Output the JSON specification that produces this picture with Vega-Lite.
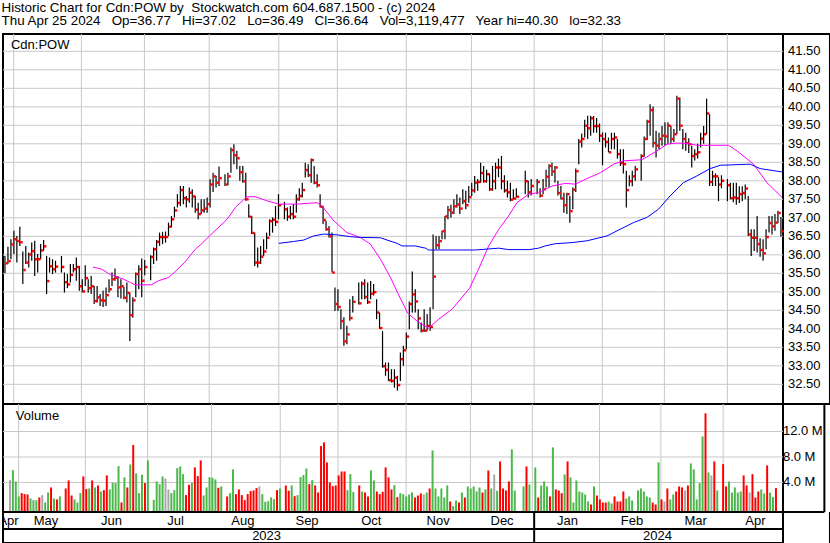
{
"$schema": "https://vega.github.io/schema/vega-lite/v6.json",
"padding": {"left": 1, "top": 0, "right": 0, "bottom": 0},
"background": "white",
"spacing": 0,
"bounds": "flush",
"title": {"text": "Historic Chart for Cdn:POW by\u00a0 Stockwatch.com 604.687.1500 - (c) 2024", "subtitle": "Thu Apr 25 2024\u00a0\u00a0 Op=36.77\u00a0\u00a0 Hi=37.02\u00a0\u00a0 Lo=36.49\u00a0\u00a0 Cl=36.64\u00a0\u00a0 Vol=3,119,477\u00a0\u00a0 Year hi=40.30\u00a0\u00a0 lo=32.33", "anchor": "start", "frame": "bounds", "fontSize": 13.4, "subtitleFontSize": 13.4, "fontWeight": "normal", "subtitleFontWeight": "normal", "font": "Liberation Sans", "subtitleFont": "Liberation Sans", "color": "black", "subtitleColor": "black", "offset": 4.7, "subtitlePadding": 0},
"config": {"font": "Liberation Sans", "view": {"stroke": "black", "strokeWidth": 2}},
"resolve": {"scale": {"x": "independent", "y": "independent", "color": "independent"}},
"datasets": {
"gp": [{"p":32.5},{"p":33},{"p":33.5},{"p":34},{"p":34.5},{"p":35},{"p":35.5},{"p":36},{"p":36.5},{"p":37},{"p":37.5},{"p":38},{"p":38.5},{"p":39},{"p":39.5},{"p":40},{"p":40.5},{"p":41},{"p":41.5}],
"gv": [{"p":4,"t":"4.0 M"},{"p":8,"t":"8.0 M"},{"p":12,"t":"12.0 M"}],
"gx": [{"i":3.94},{"i":26.7},{"i":47.9},{"i":69.7},{"i":93.1},{"i":112.8},{"i":136},{"i":157.9},{"i":179},{"i":201.9},{"i":222.8},{"i":244}],
"edge": [{"i":278.5}],
"mo": [{"i":2.2,"t":"Apr"},{"i":14.8,"t":"May"},{"i":36.8,"t":"Jun"},{"i":58.4,"t":"Jul"},{"i":81,"t":"Aug"},{"i":102.6,"t":"Sep"},{"i":124.2,"t":"Oct"},{"i":146.7,"t":"Nov"},{"i":168.2,"t":"Dec"},{"i":190.2,"t":"Jan"},{"i":211.9,"t":"Feb"},{"i":233.3,"t":"Mar"},{"i":253.4,"t":"Apr"}],
"yr": [{"i":89,"t":"2023"},{"i":220.5,"t":"2024"}],
"m1": [{"i":30.6,"m":35.67},{"i":33.6,"m":35.61},{"i":35.9,"m":35.49},{"i":38.1,"m":35.42},{"i":40.9,"m":35.34},{"i":43.2,"m":35.25},{"i":44.8,"m":35.19},{"i":50.2,"m":35.19},{"i":52.7,"m":35.3},{"i":56.1,"m":35.39},{"i":58.3,"m":35.55},{"i":61.5,"m":35.8},{"i":65,"m":36.15},{"i":67.3,"m":36.31},{"i":69.8,"m":36.51},{"i":74,"m":36.83},{"i":75.7,"m":36.96},{"i":78.7,"m":37.3},{"i":82.4,"m":37.57},{"i":85.2,"m":37.57},{"i":89.1,"m":37.46},{"i":93.1,"m":37.37},{"i":99.2,"m":37.37},{"i":106,"m":37.41},{"i":107.6,"m":37.32},{"i":111.6,"m":36.92},{"i":116,"m":36.6},{"i":120.5,"m":36.47},{"i":123.9,"m":36.29},{"i":127.3,"m":35.88},{"i":130.6,"m":35.4},{"i":133.2,"m":34.95},{"i":136.5,"m":34.42},{"i":140.2,"m":34.17},{"i":143.5,"m":34.02},{"i":146.9,"m":34.26},{"i":151.4,"m":34.53},{"i":157.3,"m":35.1},{"i":160.3,"m":35.61},{"i":163.7,"m":36.24},{"i":167.1,"m":36.69},{"i":170.4,"m":37.05},{"i":173.2,"m":37.41},{"i":177.2,"m":37.64},{"i":180.5,"m":37.68},{"i":185,"m":37.86},{"i":189.5,"m":37.93},{"i":192.8,"m":37.91},{"i":196.8,"m":38.06},{"i":201.3,"m":38.22},{"i":205.7,"m":38.45},{"i":209.1,"m":38.54},{"i":215.3,"m":38.57},{"i":220.3,"m":38.81},{"i":223.7,"m":38.99},{"i":227,"m":39.02},{"i":230.4,"m":39.01},{"i":233.8,"m":38.96},{"i":244.4,"m":38.96},{"i":247.2,"m":38.81},{"i":252.8,"m":38.45},{"i":257.3,"m":37.95},{"i":262.4,"m":37.55}],
"m2": [{"i":93.1,"m":36.31},{"i":98.1,"m":36.36},{"i":101.5,"m":36.4},{"i":104.8,"m":36.51},{"i":108.2,"m":36.56},{"i":112.7,"m":36.54},{"i":117.2,"m":36.49},{"i":120.5,"m":36.47},{"i":127.3,"m":36.46},{"i":129.5,"m":36.4},{"i":132.9,"m":36.31},{"i":134.5,"m":36.24},{"i":139,"m":36.24},{"i":142.4,"m":36.18},{"i":143.5,"m":36.13},{"i":159.2,"m":36.13},{"i":167.1,"m":36.18},{"i":170.4,"m":36.14},{"i":177.2,"m":36.14},{"i":180.5,"m":36.18},{"i":182.7,"m":36.24},{"i":186.1,"m":36.3},{"i":191.7,"m":36.33},{"i":196.8,"m":36.38},{"i":203.5,"m":36.51},{"i":207.9,"m":36.69},{"i":212.4,"m":36.87},{"i":216.9,"m":37.01},{"i":220.8,"m":37.23},{"i":224.7,"m":37.59},{"i":229.2,"m":37.95},{"i":233.7,"m":38.13},{"i":238.2,"m":38.33},{"i":241.6,"m":38.42},{"i":251.7,"m":38.45},{"i":255,"m":38.33},{"i":262.4,"m":38.24}],
"p": [
{"i":1,"h":35.97,"l":35.5,"c":35.77,"v":4.37,"k":"n"},
{"i":2,"h":36.22,"l":35.76,"c":35.83,"v":5.94,"k":"u"},
{"i":3,"h":36.42,"l":35.88,"c":36.28,"v":4.16,"k":"u"},
{"i":4,"h":36.65,"l":36.02,"c":36.42,"v":1.81,"k":"u"},
{"i":5,"h":36.51,"l":35.79,"c":36.37,"v":2.33,"k":"d"},
{"i":6,"h":36.76,"l":36.24,"c":36.34,"v":2.17,"k":"d"},
{"i":7,"h":36.09,"l":35.21,"c":35.59,"v":2.12,"k":"d"},
{"i":8,"h":36.24,"l":35.75,"c":35.79,"v":1.49,"k":"u"},
{"i":9,"h":36.06,"l":35.66,"c":36.01,"v":1.23,"k":"u"},
{"i":10,"h":36.33,"l":35.84,"c":36.1,"v":1.23,"k":"u"},
{"i":11,"h":36.38,"l":35.43,"c":35.88,"v":1.65,"k":"d"},
{"i":12,"h":36.02,"l":35.52,"c":35.88,"v":2.02,"k":"n"},
{"i":13,"h":36.29,"l":35.88,"c":36.12,"v":0.86,"k":"u"},
{"i":14,"h":36.4,"l":36.11,"c":36.23,"v":2.43,"k":"u"},
{"i":15,"h":35.97,"l":34.94,"c":35.29,"v":3.22,"k":"d"},
{"i":16,"h":35.93,"l":35.52,"c":35.69,"v":1.49,"k":"u"},
{"i":17,"h":35.88,"l":35.48,"c":35.61,"v":1.34,"k":"d"},
{"i":18,"h":35.84,"l":35.52,"c":35.68,"v":1.81,"k":"u"},
{"i":20,"h":35.97,"l":35.52,"c":35.67,"v":3.06,"k":"d"},
{"i":21,"h":35.52,"l":34.98,"c":35.26,"v":4.32,"k":"d"},
{"i":22,"h":35.48,"l":35.1,"c":35.2,"v":1.96,"k":"d"},
{"i":23,"h":35.75,"l":35.25,"c":35.46,"v":1.34,"k":"u"},
{"i":24,"h":35.75,"l":35.52,"c":35.61,"v":0.86,"k":"u"},
{"i":25,"h":35.93,"l":35.3,"c":35.67,"v":2.33,"k":"u"},
{"i":26,"h":35.7,"l":35.03,"c":35.15,"v":4.95,"k":"d"},
{"i":27,"h":35.34,"l":34.98,"c":35.01,"v":2.96,"k":"d"},
{"i":28,"h":35.72,"l":35.16,"c":35.37,"v":3.06,"k":"u"},
{"i":29,"h":35.34,"l":34.98,"c":35.1,"v":4.32,"k":"d"},
{"i":30,"h":35.43,"l":34.94,"c":35.15,"v":3.22,"k":"u"},
{"i":31,"h":35.16,"l":34.67,"c":34.75,"v":3.53,"k":"d"},
{"i":32,"h":35.16,"l":34.71,"c":34.85,"v":2.59,"k":"u"},
{"i":33,"h":34.94,"l":34.62,"c":34.77,"v":2.8,"k":"d"},
{"i":34,"h":35.03,"l":34.59,"c":34.76,"v":5.1,"k":"d"},
{"i":35,"h":35.12,"l":34.62,"c":34.91,"v":2.91,"k":"u"},
{"i":36,"h":35.34,"l":34.98,"c":35.07,"v":3.95,"k":"u"},
{"i":37,"h":35.52,"l":35.16,"c":35.34,"v":3.9,"k":"u"},
{"i":38,"h":35.63,"l":35.3,"c":35.38,"v":6.57,"k":"u"},
{"i":39,"h":35.43,"l":34.85,"c":35.12,"v":0.86,"k":"d"},
{"i":40,"h":35.34,"l":34.82,"c":35.15,"v":4.79,"k":"u"},
{"i":41,"h":35.14,"l":34.8,"c":34.84,"v":3.22,"k":"d"},
{"i":42,"h":35.25,"l":34.71,"c":34.97,"v":6.83,"k":"u"},
{"i":43,"h":34.98,"l":33.67,"c":34.37,"v":9.87,"k":"d"},
{"i":44,"h":34.85,"l":34.3,"c":34.77,"v":5.42,"k":"u"},
{"i":45,"h":35.52,"l":34.85,"c":35.48,"v":2.33,"k":"u"},
{"i":46,"h":35.72,"l":35.07,"c":35.61,"v":5.21,"k":"u"},
{"i":47,"h":35.9,"l":34.85,"c":35.3,"v":3.9,"k":"d"},
{"i":48,"h":35.86,"l":35.45,"c":35.67,"v":7.46,"k":"u"},
{"i":50,"h":35.99,"l":35.31,"c":35.94,"v":1.28,"k":"u"},
{"i":51,"h":36.2,"l":35.75,"c":36.15,"v":4.16,"k":"u"},
{"i":52,"h":36.4,"l":35.84,"c":36.35,"v":3.74,"k":"u"},
{"i":53,"h":36.6,"l":36.24,"c":36.48,"v":4.95,"k":"u"},
{"i":54,"h":36.62,"l":36.29,"c":36.48,"v":4.63,"k":"n"},
{"i":55,"h":36.63,"l":36.33,"c":36.48,"v":2.91,"k":"n"},
{"i":56,"h":36.87,"l":36.51,"c":36.76,"v":2.33,"k":"u"},
{"i":57,"h":37.05,"l":36.74,"c":36.96,"v":2.8,"k":"u"},
{"i":58,"h":37.3,"l":37.01,"c":37.2,"v":6.26,"k":"u"},
{"i":59,"h":37.64,"l":37.28,"c":37.4,"v":6.52,"k":"u"},
{"i":60,"h":37.86,"l":37.32,"c":37.75,"v":5.31,"k":"u"},
{"i":61,"h":37.86,"l":37.37,"c":37.53,"v":2.02,"k":"d"},
{"i":62,"h":37.59,"l":37.28,"c":37.5,"v":3.64,"k":"d"},
{"i":63,"h":37.82,"l":37.41,"c":37.68,"v":3.95,"k":"u"},
{"i":64,"h":37.77,"l":37.28,"c":37.58,"v":6.36,"k":"d"},
{"i":65,"h":37.59,"l":37.14,"c":37.22,"v":5.0,"k":"d"},
{"i":66,"h":37.41,"l":36.96,"c":37.1,"v":7.46,"k":"d"},
{"i":67,"h":37.5,"l":37.1,"c":37.2,"v":1.96,"k":"u"},
{"i":68,"h":37.5,"l":37.14,"c":37.25,"v":3.22,"k":"u"},
{"i":69,"h":37.55,"l":37.14,"c":37.37,"v":4.84,"k":"u"},
{"i":70,"h":38.04,"l":37.28,"c":37.9,"v":4.74,"k":"u"},
{"i":71,"h":38.22,"l":37.7,"c":38.12,"v":4.48,"k":"u"},
{"i":72,"h":38.13,"l":37.82,"c":37.95,"v":3.17,"k":"d"},
{"i":73,"h":38.39,"l":37.86,"c":38.07,"v":3.38,"k":"u"},
{"i":75,"h":38.18,"l":37.86,"c":37.9,"v":1.81,"k":"d"},
{"i":76,"h":38.22,"l":37.88,"c":38.12,"v":2.33,"k":"u"},
{"i":77,"h":38.9,"l":38.22,"c":38.83,"v":6.05,"k":"u"},
{"i":78,"h":38.99,"l":38.45,"c":38.69,"v":2.17,"k":"d"},
{"i":79,"h":38.81,"l":38.31,"c":38.61,"v":2.91,"k":"d"},
{"i":80,"h":38.4,"l":38.0,"c":38.23,"v":2.02,"k":"d"},
{"i":81,"h":38.4,"l":37.95,"c":37.99,"v":1.23,"k":"d"},
{"i":82,"h":38.22,"l":37.46,"c":37.5,"v":2.17,"k":"d"},
{"i":83,"h":37.37,"l":37.01,"c":37.03,"v":2.64,"k":"d"},
{"i":84,"h":37.05,"l":36.56,"c":36.59,"v":2.75,"k":"d"},
{"i":85,"h":36.6,"l":35.7,"c":35.79,"v":3.12,"k":"d"},
{"i":86,"h":36.2,"l":35.66,"c":35.79,"v":3.38,"k":"n"},
{"i":87,"h":36.24,"l":35.75,"c":35.95,"v":2.17,"k":"u"},
{"i":88,"h":36.42,"l":35.97,"c":36.09,"v":0.97,"k":"u"},
{"i":89,"h":36.6,"l":36.15,"c":36.46,"v":1.07,"k":"u"},
{"i":90,"h":36.96,"l":36.51,"c":36.91,"v":1.65,"k":"u"},
{"i":91,"h":37.01,"l":36.6,"c":36.95,"v":1.39,"k":"u"},
{"i":92,"h":37.32,"l":36.78,"c":36.89,"v":2.8,"k":"d"},
{"i":93,"h":37.64,"l":36.96,"c":37.34,"v":3.06,"k":"u"},
{"i":95,"h":37.43,"l":36.96,"c":37.23,"v":3.53,"k":"d"},
{"i":96,"h":37.28,"l":36.92,"c":37.03,"v":2.7,"k":"d"},
{"i":97,"h":37.32,"l":36.96,"c":37.1,"v":3.53,"k":"u"},
{"i":98,"h":37.37,"l":36.96,"c":37.03,"v":1.86,"k":"d"},
{"i":99,"h":37.64,"l":37.14,"c":37.5,"v":2.02,"k":"u"},
{"i":100,"h":37.8,"l":37.46,"c":37.59,"v":4.84,"k":"u"},
{"i":101,"h":37.95,"l":37.55,"c":37.75,"v":5.16,"k":"u"},
{"i":102,"h":38.49,"l":38.09,"c":38.29,"v":6.2,"k":"u"},
{"i":103,"h":38.45,"l":38.1,"c":38.15,"v":3.74,"k":"d"},
{"i":104,"h":38.6,"l":37.95,"c":38.56,"v":4.37,"k":"u"},
{"i":105,"h":38.4,"l":37.91,"c":37.95,"v":3.53,"k":"d"},
{"i":106,"h":38.18,"l":37.82,"c":37.88,"v":2.43,"k":"d"},
{"i":107,"h":37.64,"l":37.28,"c":37.3,"v":9.71,"k":"d"},
{"i":108,"h":37.32,"l":36.83,"c":36.94,"v":10.29,"k":"d"},
{"i":109,"h":36.92,"l":36.65,"c":36.69,"v":7.15,"k":"d"},
{"i":110,"h":36.78,"l":36.47,"c":36.5,"v":4.01,"k":"d"},
{"i":111,"h":36.6,"l":35.52,"c":35.52,"v":3.43,"k":"d"},
{"i":112,"h":35.12,"l":34.48,"c":34.67,"v":3.53,"k":"d"},
{"i":113,"h":35.07,"l":34.48,"c":34.59,"v":5.1,"k":"d"},
{"i":114,"h":34.53,"l":33.99,"c":34.21,"v":5.73,"k":"d"},
{"i":115,"h":34.31,"l":33.54,"c":33.66,"v":5.73,"k":"d"},
{"i":116,"h":34.08,"l":33.58,"c":33.85,"v":2.8,"k":"u"},
{"i":117,"h":34.8,"l":34.22,"c":34.29,"v":5.31,"k":"u"},
{"i":118,"h":34.89,"l":34.44,"c":34.73,"v":2.49,"k":"u"},
{"i":120,"h":35.25,"l":34.66,"c":34.69,"v":3.53,"k":"d"},
{"i":121,"h":35.28,"l":34.8,"c":35.22,"v":2.59,"k":"u"},
{"i":122,"h":35.34,"l":34.8,"c":34.86,"v":2.43,"k":"d"},
{"i":123,"h":35.25,"l":34.67,"c":34.72,"v":1.81,"k":"d"},
{"i":124,"h":35.29,"l":34.8,"c":34.95,"v":5.89,"k":"u"},
{"i":125,"h":35.21,"l":34.9,"c":34.99,"v":4.32,"k":"u"},
{"i":126,"h":34.8,"l":34.26,"c":34.44,"v":2.59,"k":"d"},
{"i":127,"h":34.44,"l":34.0,"c":34.02,"v":2.17,"k":"d"},
{"i":128,"h":33.94,"l":32.95,"c":32.99,"v":2.54,"k":"d"},
{"i":129,"h":33.09,"l":32.73,"c":32.89,"v":6.36,"k":"d"},
{"i":130,"h":33.09,"l":32.59,"c":32.61,"v":4.79,"k":"d"},
{"i":131,"h":32.91,"l":32.55,"c":32.59,"v":2.91,"k":"d"},
{"i":132,"h":32.91,"l":32.41,"c":32.68,"v":3.59,"k":"u"},
{"i":133,"h":32.73,"l":32.33,"c":32.48,"v":1.7,"k":"d"},
{"i":134,"h":33.36,"l":32.59,"c":33.18,"v":2.33,"k":"u"},
{"i":135,"h":33.54,"l":33.0,"c":33.42,"v":2.17,"k":"u"},
{"i":136,"h":33.9,"l":33.45,"c":33.79,"v":1.81,"k":"u"},
{"i":137,"h":34.74,"l":33.99,"c":34.67,"v":2.12,"k":"u"},
{"i":138,"h":35.55,"l":34.44,"c":34.93,"v":2.43,"k":"u"},
{"i":139,"h":35.07,"l":34.44,"c":34.74,"v":1.65,"k":"d"},
{"i":140,"h":34.53,"l":33.99,"c":34.28,"v":1.96,"k":"d"},
{"i":141,"h":34.17,"l":33.9,"c":33.95,"v":2.28,"k":"d"},
{"i":142,"h":34.53,"l":33.92,"c":33.95,"v":2.12,"k":"n"},
{"i":143,"h":34.4,"l":33.95,"c":34.08,"v":2.43,"k":"u"},
{"i":144,"h":34.58,"l":33.95,"c":34.05,"v":3.06,"k":"d"},
{"i":145,"h":36.55,"l":34.53,"c":35.41,"v":9.03,"k":"u"},
{"i":146,"h":36.51,"l":36.15,"c":36.26,"v":3.06,"k":"u"},
{"i":147,"h":36.51,"l":36.15,"c":36.37,"v":1.81,"k":"u"},
{"i":148,"h":36.65,"l":36.42,"c":36.64,"v":3.06,"k":"u"},
{"i":149,"h":37.05,"l":36.42,"c":37.04,"v":1.65,"k":"u"},
{"i":150,"h":37.32,"l":36.96,"c":37.21,"v":3.53,"k":"u"},
{"i":151,"h":37.35,"l":37.0,"c":37.14,"v":1.02,"k":"d"},
{"i":152,"h":37.5,"l":37.1,"c":37.31,"v":0.3,"k":"u"},
{"i":153,"h":37.64,"l":37.28,"c":37.36,"v":1.18,"k":"u"},
{"i":154,"h":37.55,"l":37.1,"c":37.25,"v":0.86,"k":"d"},
{"i":155,"h":37.77,"l":37.37,"c":37.45,"v":2.43,"k":"u"},
{"i":156,"h":37.73,"l":37.23,"c":37.34,"v":1.65,"k":"d"},
{"i":157,"h":37.86,"l":37.41,"c":37.56,"v":3.38,"k":"u"},
{"i":158,"h":37.95,"l":37.59,"c":37.74,"v":3.06,"k":"u"},
{"i":159,"h":38.13,"l":37.68,"c":37.95,"v":3.38,"k":"u"},
{"i":160,"h":38.05,"l":37.73,"c":37.97,"v":2.59,"k":"u"},
{"i":161,"h":38.49,"l":37.95,"c":38.21,"v":3.22,"k":"u"},
{"i":162,"h":38.4,"l":37.95,"c":37.99,"v":2.43,"k":"d"},
{"i":163,"h":38.3,"l":37.95,"c":38.18,"v":2.91,"k":"u"},
{"i":164,"h":38.2,"l":37.73,"c":37.77,"v":5.89,"k":"d"},
{"i":165,"h":38.4,"l":37.73,"c":37.99,"v":3.06,"k":"u"},
{"i":166,"h":38.49,"l":37.77,"c":38.36,"v":5.26,"k":"n"},
{"i":167,"h":38.6,"l":38.1,"c":38.36,"v":2.7,"k":"u"},
{"i":168,"h":38.67,"l":37.77,"c":37.99,"v":7.3,"k":"d"},
{"i":169,"h":38.15,"l":37.68,"c":37.74,"v":3.06,"k":"d"},
{"i":170,"h":38.0,"l":37.55,"c":37.69,"v":2.75,"k":"d"},
{"i":171,"h":37.95,"l":37.45,"c":37.49,"v":4.16,"k":"d"},
{"i":172,"h":37.77,"l":37.5,"c":37.52,"v":9.19,"k":"u"},
{"i":173,"h":37.8,"l":37.55,"c":37.57,"v":2.75,"k":"u"},
{"i":176,"h":38.27,"l":37.64,"c":37.99,"v":3.38,"k":"u"},
{"i":177,"h":38.0,"l":37.55,"c":37.69,"v":6.52,"k":"d"},
{"i":178,"h":38.05,"l":37.6,"c":37.86,"v":3.69,"k":"u"},
{"i":180,"h":38.05,"l":37.64,"c":37.97,"v":6.36,"k":"u"},
{"i":181,"h":37.8,"l":37.55,"c":37.6,"v":1.65,"k":"d"},
{"i":182,"h":38.05,"l":37.64,"c":37.77,"v":3.53,"k":"u"},
{"i":183,"h":38.3,"l":37.82,"c":38.11,"v":4.16,"k":"u"},
{"i":184,"h":38.45,"l":37.82,"c":38.4,"v":3.38,"k":"u"},
{"i":185,"h":38.49,"l":38.13,"c":38.25,"v":1.81,"k":"d"},
{"i":186,"h":38.4,"l":37.95,"c":38.36,"v":9.5,"k":"u"},
{"i":187,"h":38.0,"l":37.6,"c":37.67,"v":2.91,"k":"d"},
{"i":188,"h":37.86,"l":37.5,"c":37.52,"v":2.75,"k":"d"},
{"i":189,"h":37.68,"l":37.14,"c":37.34,"v":2.33,"k":"d"},
{"i":190,"h":37.68,"l":37.1,"c":37.64,"v":5.26,"k":"u"},
{"i":191,"h":37.59,"l":36.87,"c":37.18,"v":7.3,"k":"d"},
{"i":192,"h":37.82,"l":37.23,"c":37.76,"v":4.79,"k":"u"},
{"i":193,"h":38.33,"l":37.7,"c":38.26,"v":0.86,"k":"u"},
{"i":194,"h":39.13,"l":38.45,"c":39.06,"v":4.32,"k":"u"},
{"i":195,"h":39.28,"l":38.9,"c":39.13,"v":2.59,"k":"u"},
{"i":196,"h":39.65,"l":39.17,"c":39.49,"v":2.43,"k":"u"},
{"i":197,"h":39.76,"l":39.13,"c":39.42,"v":2.12,"k":"u"},
{"i":198,"h":39.76,"l":39.22,"c":39.69,"v":1.02,"k":"u"},
{"i":199,"h":39.75,"l":39.3,"c":39.48,"v":0.55,"k":"d"},
{"i":200,"h":39.7,"l":39.3,"c":39.48,"v":3.38,"k":"u"},
{"i":201,"h":39.55,"l":39.05,"c":39.22,"v":1.96,"k":"d"},
{"i":202,"h":39.31,"l":38.42,"c":39.13,"v":1.34,"k":"d"},
{"i":203,"h":39.3,"l":38.9,"c":39.05,"v":0.86,"k":"d"},
{"i":204,"h":39.17,"l":38.77,"c":38.77,"v":0.86,"k":"d"},
{"i":205,"h":39.3,"l":38.85,"c":39.13,"v":1.02,"k":"u"},
{"i":206,"h":39.3,"l":38.85,"c":39.17,"v":0.71,"k":"u"},
{"i":207,"h":39.13,"l":38.6,"c":38.72,"v":1.81,"k":"d"},
{"i":208,"h":38.85,"l":38.4,"c":38.48,"v":1.02,"k":"d"},
{"i":209,"h":38.85,"l":38.2,"c":38.45,"v":1.02,"k":"d"},
{"i":210,"h":38.27,"l":37.28,"c":37.75,"v":2.59,"k":"d"},
{"i":211,"h":38.15,"l":37.85,"c":37.99,"v":1.49,"k":"u"},
{"i":212,"h":38.27,"l":37.85,"c":38.12,"v":1.81,"k":"u"},
{"i":213,"h":38.4,"l":38.0,"c":38.31,"v":1.18,"k":"u"},
{"i":215,"h":38.72,"l":38.0,"c":38.67,"v":2.75,"k":"u"},
{"i":216,"h":39.2,"l":38.65,"c":39.13,"v":3.06,"k":"u"},
{"i":217,"h":39.65,"l":39.1,"c":39.6,"v":2.59,"k":"u"},
{"i":218,"h":40.07,"l":39.22,"c":39.91,"v":1.81,"k":"u"},
{"i":219,"h":40.01,"l":38.9,"c":39.02,"v":1.65,"k":"u"},
{"i":220,"h":39.35,"l":38.63,"c":38.95,"v":0.86,"k":"d"},
{"i":221,"h":39.3,"l":38.85,"c":39.13,"v":0.55,"k":"d"},
{"i":222,"h":39.48,"l":38.95,"c":39.22,"v":7.15,"k":"u"},
{"i":223,"h":39.58,"l":38.95,"c":39.2,"v":1.34,"k":"d"},
{"i":224,"h":39.58,"l":39.0,"c":39.49,"v":1.02,"k":"n"},
{"i":225,"h":39.48,"l":39.0,"c":39.13,"v":3.06,"k":"d"},
{"i":226,"h":39.4,"l":39.05,"c":39.26,"v":1.34,"k":"u"},
{"i":227,"h":40.3,"l":39.26,"c":40.22,"v":2.12,"k":"u"},
{"i":228,"h":40.25,"l":39.35,"c":39.49,"v":2.59,"k":"d"},
{"i":229,"h":39.4,"l":38.85,"c":39.13,"v":3.38,"k":"d"},
{"i":230,"h":39.3,"l":38.81,"c":39.02,"v":3.22,"k":"d"},
{"i":231,"h":39.15,"l":38.75,"c":38.99,"v":2.75,"k":"n"},
{"i":232,"h":38.95,"l":38.36,"c":38.67,"v":3.53,"k":"d"},
{"i":233,"h":38.85,"l":38.55,"c":38.72,"v":6.99,"k":"u"},
{"i":234,"h":39.0,"l":38.6,"c":38.77,"v":6.05,"k":"u"},
{"i":235,"h":39.3,"l":38.9,"c":39.14,"v":1.34,"k":"u"},
{"i":236,"h":39.48,"l":39.0,"c":39.26,"v":3.9,"k":"u"},
{"i":237,"h":40.22,"l":39.26,"c":39.82,"v":11.23,"k":"u"},
{"i":238,"h":39.8,"l":37.86,"c":37.97,"v":14.84,"k":"d"},
{"i":239,"h":38.27,"l":37.86,"c":38.12,"v":5.58,"k":"u"},
{"i":240,"h":38.2,"l":37.86,"c":38.12,"v":5.1,"k":"n"},
{"i":241,"h":38.1,"l":37.45,"c":37.9,"v":7.3,"k":"d"},
{"i":242,"h":38.15,"l":37.8,"c":38.0,"v":2.75,"k":"u"},
{"i":244,"h":38.05,"l":37.45,"c":37.88,"v":6.88,"k":"d"},
{"i":245,"h":37.95,"l":37.5,"c":37.53,"v":3.38,"k":"d"},
{"i":246,"h":37.95,"l":37.42,"c":37.55,"v":4.16,"k":"u"},
{"i":247,"h":37.95,"l":37.35,"c":37.53,"v":2.43,"k":"u"},
{"i":248,"h":37.85,"l":37.4,"c":37.64,"v":3.22,"k":"u"},
{"i":249,"h":37.85,"l":37.45,"c":37.67,"v":2.43,"k":"u"},
{"i":250,"h":37.9,"l":37.5,"c":37.79,"v":2.6,"k":"u"},
{"i":251,"h":37.59,"l":36.51,"c":36.55,"v":5.1,"k":"d"},
{"i":252,"h":36.69,"l":35.97,"c":36.46,"v":3.53,"k":"d"},
{"i":253,"h":36.69,"l":36.1,"c":36.46,"v":2.43,"k":"n"},
{"i":254,"h":37.05,"l":36.06,"c":36.29,"v":5.31,"k":"d"},
{"i":255,"h":36.45,"l":35.95,"c":36.13,"v":1.65,"k":"d"},
{"i":256,"h":36.42,"l":35.84,"c":36.04,"v":2.59,"k":"d"},
{"i":257,"h":36.69,"l":36.15,"c":36.48,"v":2.91,"k":"u"},
{"i":258,"h":37.05,"l":36.6,"c":36.86,"v":2.28,"k":"u"},
{"i":259,"h":37.05,"l":36.55,"c":36.77,"v":6.68,"k":"d"},
{"i":260,"h":37.1,"l":36.65,"c":36.87,"v":2.4,"k":"u"},
{"i":261,"h":37.19,"l":36.85,"c":37.13,"v":1.7,"k":"u"},
{"i":262,"h":37.02,"l":36.49,"c":36.64,"v":3.12,"k":"d"}
]
},
"vconcat": [
{
"width": 780, "height": 370,
"layer": [
{"data": {"name": "gp"}, "mark": {"type": "rule", "color": "#c8c8c8", "strokeWidth": 1},
 "encoding": {"y": {"field": "p", "type": "quantitative", "scale": {"domain": [31.968, 41.968], "nice": false, "zero": false}, "axis": null}}},
{"data": {"name": "gx"}, "mark": {"type": "rule", "color": "#c8c8c8", "strokeWidth": 1},
 "encoding": {"x": {"field": "i", "type": "quantitative", "scale": {"domain": [0.336, 262.7], "nice": false, "zero": false}, "axis": null}}},
{"data": {"name": "p"}, "mark": {"type": "rule", "color": "black", "strokeWidth": 1.2},
 "encoding": {
  "x": {"field": "i", "type": "quantitative", "scale": {"domain": [0.336, 262.7], "nice": false, "zero": false}, "axis": null},
  "y": {"field": "l", "type": "quantitative", "scale": {"domain": [31.968, 41.968], "nice": false, "zero": false}, "axis": null},
  "y2": {"field": "h"}
 }},
{"data": {"name": "p"}, "mark": {"type": "point", "shape": "square", "filled": true, "size": 6, "color": "#ff0000", "opacity": 1, "xOffset": 1.6},
 "encoding": {
  "x": {"field": "i", "type": "quantitative", "scale": {"domain": [0.336, 262.7], "nice": false, "zero": false}, "axis": null},
  "y": {"field": "c", "type": "quantitative", "scale": {"domain": [31.968, 41.968], "nice": false, "zero": false}, "axis": null}
 }},
{"data": {"name": "m1"}, "mark": {"type": "line", "color": "#ff00ff", "strokeWidth": 1},
 "encoding": {
  "x": {"field": "i", "type": "quantitative", "scale": {"domain": [0.336, 262.7], "nice": false, "zero": false}, "axis": null},
  "y": {"field": "m", "type": "quantitative", "scale": {"domain": [31.968, 41.968], "nice": false, "zero": false}, "axis": null}
 }},
{"data": {"name": "m2"}, "mark": {"type": "line", "color": "#0000ff", "strokeWidth": 1},
 "encoding": {
  "x": {"field": "i", "type": "quantitative", "scale": {"domain": [0.336, 262.7], "nice": false, "zero": false}, "axis": null},
  "y": {"field": "m", "type": "quantitative", "scale": {"domain": [31.968, 41.968], "nice": false, "zero": false}, "axis": null}
 }},
{"data": {"values": [{"t": "Cdn:POW"}]}, "mark": {"type": "text", "align": "left", "baseline": "alphabetic", "fontSize": 13, "color": "black"},
 "encoding": {
  "x": {"datum": 3, "type": "quantitative", "scale": {"domain": [0.336, 262.7], "nice": false, "zero": false}, "axis": null},
  "y": {"datum": 41.557, "type": "quantitative", "scale": {"domain": [31.968, 41.968], "nice": false, "zero": false}, "axis": null},
  "text": {"field": "t"}
 }},
{"data": {"name": "gp"}, "mark": {"type": "text", "align": "left", "baseline": "middle", "fontSize": 13, "color": "black"},
 "encoding": {
  "x": {"datum": 264.37, "type": "quantitative", "scale": {"domain": [0.336, 262.7], "nice": false, "zero": false}, "axis": null},
  "y": {"field": "p", "type": "quantitative", "scale": {"domain": [31.968, 41.968], "nice": false, "zero": false}, "axis": null},
  "text": {"field": "p", "type": "quantitative", "format": ".2f"}
 }},
{"data": {"name": "edge"}, "mark": {"type": "rule", "color": "black", "strokeWidth": 2},
 "encoding": {"x": {"field": "i", "type": "quantitative", "scale": {"domain": [0.336, 262.7], "nice": false, "zero": false}, "axis": null}}},
{"data": {"values": [{"y": 41.968}, {"y": 31.968}]}, "mark": {"type": "rule", "color": "black", "strokeWidth": 2},
 "encoding": {
  "x": {"datum": 262.7, "type": "quantitative", "scale": {"domain": [0.336, 262.7], "nice": false, "zero": false}, "axis": null},
  "x2": {"datum": 278.5},
  "y": {"field": "y", "type": "quantitative", "scale": {"domain": [31.968, 41.968], "nice": false, "zero": false}, "axis": null}
 }}
]
},
{
"width": 780, "height": 108,
"layer": [
{"data": {"name": "gv"}, "mark": {"type": "rule", "color": "#c8c8c8", "strokeWidth": 1},
 "encoding": {"y": {"field": "p", "type": "quantitative", "scale": {"domain": [-0.63, 16.31], "nice": false, "zero": false}, "axis": null}}},
{"data": {"name": "gx"}, "mark": {"type": "rule", "color": "#c8c8c8", "strokeWidth": 1},
 "encoding": {"x": {"field": "i", "type": "quantitative", "scale": {"domain": [0.336, 262.7], "nice": false, "zero": false}, "axis": null}}},
{"data": {"name": "p"}, "mark": {"type": "bar", "width": 2},
 "encoding": {
  "x": {"field": "i", "type": "quantitative", "scale": {"domain": [0.336, 262.7], "nice": false, "zero": false}, "axis": null},
  "y": {"field": "v", "type": "quantitative", "scale": {"domain": [-0.63, 16.31], "nice": false, "zero": false}, "axis": null},
  "y2": {"datum": -0.63},
  "color": {"field": "k", "type": "nominal", "scale": {"domain": ["u", "d", "n"], "range": ["#4cb84c", "#ff0000", "#a9a9a9"]}, "legend": null}
 }},
{"data": {"name": "gv"}, "mark": {"type": "text", "align": "left", "baseline": "middle", "fontSize": 13, "color": "black"},
 "encoding": {
  "x": {"datum": 264.37, "type": "quantitative", "scale": {"domain": [0.336, 262.7], "nice": false, "zero": false}, "axis": null},
  "y": {"field": "p", "type": "quantitative", "scale": {"domain": [-0.63, 16.31], "nice": false, "zero": false}, "axis": null},
  "text": {"field": "t"}
 }},
{"data": {"values": [{"t": "Volume"}]}, "mark": {"type": "text", "align": "left", "baseline": "alphabetic", "fontSize": 13, "color": "black"},
 "encoding": {
  "x": {"datum": 3, "type": "quantitative", "scale": {"domain": [0.336, 262.7], "nice": false, "zero": false}, "axis": null},
  "y": {"datum": 13.73, "type": "quantitative", "scale": {"domain": [-0.63, 16.31], "nice": false, "zero": false}, "axis": null},
  "text": {"field": "t"}
 }},
{"data": {"name": "edge"}, "mark": {"type": "rule", "color": "black", "strokeWidth": 2},
 "encoding": {"x": {"field": "i", "type": "quantitative", "scale": {"domain": [0.336, 262.7], "nice": false, "zero": false}, "axis": null}}},
{"data": {"values": [{"y": -0.63}]}, "mark": {"type": "rule", "color": "black", "strokeWidth": 2},
 "encoding": {
  "x": {"datum": 262.7, "type": "quantitative", "scale": {"domain": [0.336, 262.7], "nice": false, "zero": false}, "axis": null},
  "x2": {"datum": 278.5},
  "y": {"field": "y", "type": "quantitative", "scale": {"domain": [-0.63, 16.31], "nice": false, "zero": false}, "axis": null}
 }}
]
},
{
"width": 780, "height": 17,
"layer": [
{"data": {"name": "mo"}, "mark": {"type": "text", "fontSize": 13, "color": "black", "clip": true},
 "encoding": {
  "x": {"field": "i", "type": "quantitative", "scale": {"domain": [0.336, 262.7], "nice": false, "zero": false}, "axis": null},
  "text": {"field": "t"}}},
{"data": {"values": [{"i": 179}]}, "mark": {"type": "rule", "color": "black", "strokeWidth": 2},
 "encoding": {"x": {"field": "i", "type": "quantitative", "scale": {"domain": [0.336, 262.7], "nice": false, "zero": false}, "axis": null}}},
{"data": {"name": "edge"}, "mark": {"type": "rule", "color": "black", "strokeWidth": 2},
 "encoding": {"x": {"field": "i", "type": "quantitative", "scale": {"domain": [0.336, 262.7], "nice": false, "zero": false}, "axis": null}}}
]
},
{
"width": 780, "height": 14,
"layer": [
{"data": {"name": "yr"}, "mark": {"type": "text", "fontSize": 13, "color": "black"},
 "encoding": {
  "x": {"field": "i", "type": "quantitative", "scale": {"domain": [0.336, 262.7], "nice": false, "zero": false}, "axis": null},
  "text": {"field": "t"}}},
{"data": {"values": [{"i": 179}]}, "mark": {"type": "rule", "color": "black", "strokeWidth": 2},
 "encoding": {"x": {"field": "i", "type": "quantitative", "scale": {"domain": [0.336, 262.7], "nice": false, "zero": false}, "axis": null}}},
{"data": {"name": "edge"}, "mark": {"type": "rule", "color": "black", "strokeWidth": 2},
 "encoding": {"x": {"field": "i", "type": "quantitative", "scale": {"domain": [0.336, 262.7], "nice": false, "zero": false}, "axis": null}}}
]
}
]
}
